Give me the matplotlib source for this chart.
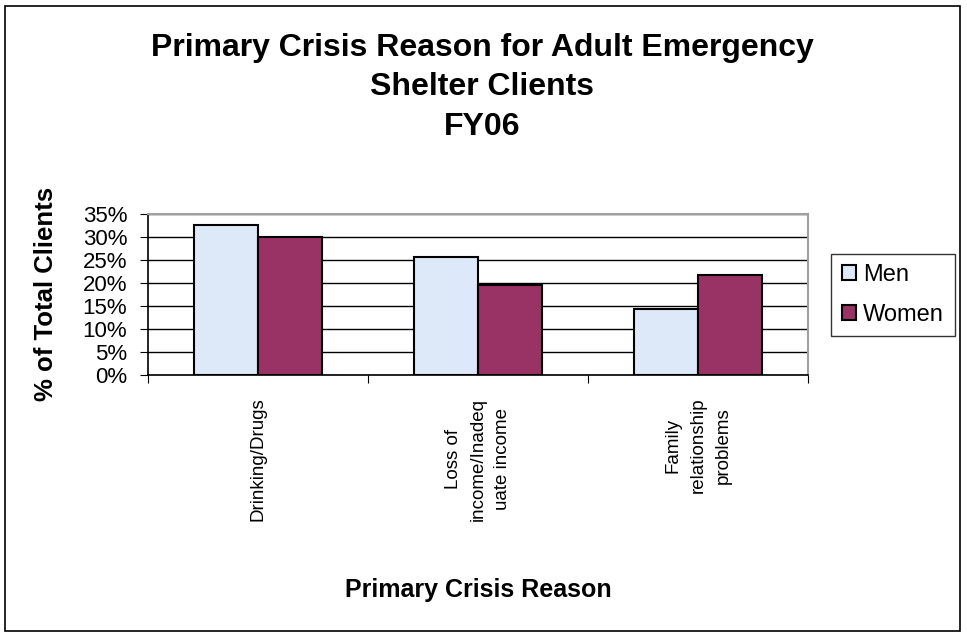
import matplotlib
matplotlib.use("Agg")
import matplotlib.pyplot as plt
import numpy as np
from matplotlib.patches import Rectangle

categories = ["Drinking/Drugs", "Loss of\nincome/Inadeq\nuate income", "Family\nrelationship\nproblems"]
men = [32.7, 25.7, 14.4]
women = [30.0, 19.6, 21.8]
yticks = [0, 5, 10, 15, 20, 25, 30, 35]
ytick_labels = ["0%", "5%", "10%", "15%", "20%", "25%", "30%", "35%"]
title_lines = ["Primary Crisis Reason for Adult Emergency", "Shelter Clients", "FY06"]

plt.rcParams['font.family'] = ['Liberation Sans', 'DejaVu Sans']

W, H = 967, 636
fig = plt.figure(figsize=(W/100, H/100), dpi=100)
fig.patch.set_facecolor('white')
fig.add_artist(Rectangle((5/W, 5/H), 955/W, 625/H, transform=fig.transFigure,
                         fill=False, edgecolor='black', linewidth=1.2))

left, right, top, bottom = 148, 808, 214, 375
ax = fig.add_axes([left/W, 1 - bottom/H, (right-left)/W, (bottom-top)/H])

x = np.arange(len(categories))
bw = 0.29
ax.bar(x - bw/2, men, bw, color='#dde9f8', edgecolor='black', linewidth=1.5, label='Men', zorder=3)
ax.bar(x + bw/2, women, bw, color='#993366', edgecolor='black', linewidth=1.5, label='Women', zorder=3)

ax.set_xlim(-0.5, len(categories) - 0.5)
ax.set_ylim(0, 35)
ax.set_yticks(yticks)
ax.set_yticklabels(ytick_labels, fontsize=16)
ax.yaxis.grid(True, color='black', linewidth=1.0, zorder=0)
ax.set_axisbelow(True)

ax.set_xticks(np.arange(-0.5, len(categories), 1.0))
ax.set_xticklabels([])
ax.tick_params(axis='x', length=6, direction='out', color='black')
ax.tick_params(axis='y', length=6, direction='out', color='black', pad=9)
for i, c in enumerate(categories):
    ax.text(i, -0.14, c, transform=ax.get_xaxis_transform(), rotation=90,
            ha='center', va='top', fontsize=13.5, multialignment='center', linespacing=1.6)

for s in ['top', 'right']:
    ax.spines[s].set_color('#a0a0a0')
    ax.spines[s].set_linewidth(1.5)
for s in ['left', 'bottom']:
    ax.spines[s].set_color('black')
    ax.spines[s].set_linewidth(1.2)

for ty, t in zip([48, 87, 127], title_lines):
    fig.text(482/W, 1 - ty/H, t, ha='center', va='center', fontsize=23, fontweight='bold')
fig.text(46/W, 1 - 294/H, "% of Total Clients", rotation=90, ha='center', va='center',
         fontsize=18.5, fontweight='bold')
fig.text(478/W, 1 - 590/H, "Primary Crisis Reason", ha='center', va='center',
         fontsize=18, fontweight='bold')

leg = fig.legend(loc='center', bbox_to_anchor=(893/W, 1 - 295/H), fontsize=17,
                 frameon=True, fancybox=False, edgecolor='black', handlelength=0.6,
                 handleheight=0.6, handletextpad=0.3, labelspacing=0.75, borderpad=0.45,
                 borderaxespad=0)
leg.get_frame().set_linewidth(1.0)

fig.savefig("out.png", dpi=100)
